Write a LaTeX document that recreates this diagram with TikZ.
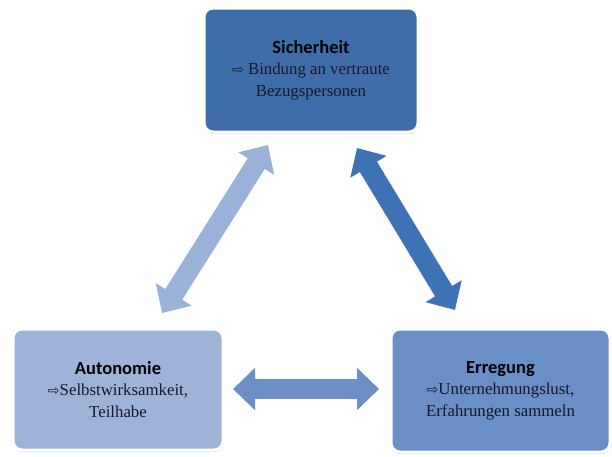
\documentclass[tikz,border=0pt]{standalone}
\usepackage{fontspec}
\setmainfont{Liberation Serif}
\newfontfamily\titlefont{Carlito}
\newfontfamily\symfont{DejaVu Sans}
\usetikzlibrary{arrows.meta,shadows}
\definecolor{topblue}{HTML}{3F6DAA}
\definecolor{leftblue}{HTML}{9DB3D7}
\definecolor{rightblue}{HTML}{6A8EC6}
\definecolor{arrlight}{HTML}{9AB1D8}
\definecolor{arrdark}{HTML}{3D73B5}
\definecolor{arrmid}{HTML}{6C8FC7}
\definecolor{txt}{HTML}{16182A}
\tikzset{
  boxstyle/.style={draw=white, line width=3pt, rounded corners=9pt,
    drop shadow={opacity=0.3, shadow xshift=0.5pt, shadow yshift=-2pt},
    align=center, text=txt, inner sep=0pt,
    font=\fontsize{16.8}{21.5}\selectfont},
  dblarrow/.style={line width=20pt,
    {Triangle[width=41pt,length=22pt]}-{Triangle[width=41pt,length=22pt]}}
}
\newcommand{\ttlx}[1]{{\titlefont\bfseries\fontsize{18.5}{21.5}\selectfont\color{black}#1}}
\newcommand{\pfeil}{{\symfont\fontsize{14}{14}\selectfont ⇨}}
\begin{document}
\begin{tikzpicture}[x=1pt,y=-1pt]
\useasboundingbox (0,0) rectangle (612,456);
\fill[white] (0,0) rectangle (612,456);

\node[boxstyle, fill=topblue, minimum width=214pt, minimum height=124pt] (sich) at (311,70)
  {\ttlx{Sicherheit}\\ \pfeil\ Bindung an vertraute\\ Bezugspersonen};
\node[boxstyle, fill=leftblue, minimum width=210pt, minimum height=121pt] (auto) at (118,389.5)
  {\ttlx{Autonomie}\\ \pfeil Selbstwirksamkeit,\\ Teilhabe};
\node[boxstyle, fill=rightblue, minimum width=219pt, minimum height=123pt] (erre) at (500.5,390.5)
  {\ttlx{Erregung}\\ \pfeil Unternehmungslust,\\ Erfahrungen sammeln};

\coordinate (la) at (162,313);
\coordinate (lb) at (268,145);
\coordinate (ra) at (357,148);
\coordinate (rb) at (455,310);
\coordinate (ba) at (233,389);
\coordinate (bb) at (379,389);

\draw[dblarrow, arrlight] (la) -- (lb);
\draw[dblarrow, arrdark] (ra) -- (rb);
\draw[dblarrow, arrmid] (ba) -- (bb);
\end{tikzpicture}
\end{document}
